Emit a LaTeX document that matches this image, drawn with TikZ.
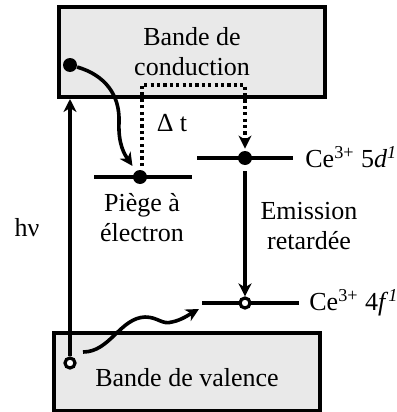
\documentclass[tikz,border=0pt]{standalone}
\usepackage{fontspec}
\setmainfont{Liberation Serif}
\usetikzlibrary{arrows.meta}
\definecolor{Band}{HTML}{E9E9E9}
\tikzset{
  band/.style={draw,line width=2pt,fill=Band,minimum width=133pt,
    inner sep=0pt,align=center},
  level/.style={line width=2.2pt},
  edot/.style={circle,fill=black,inner sep=0pt,minimum size=7pt},
  hole/.style={circle,draw,line width=1.6pt,fill=white,inner sep=0pt,
    minimum size=5pt},
  tip/.style={-{Stealth[length=6.5pt,width=6.5pt,inset=2pt]}},
  arrow/.style={tip,line width=1.8pt},
  delay/.style={line width=1.7pt,dash pattern=on 1.6pt off 1.6pt},
  lbl/.style={align=center},
  ion/.style={anchor=west,inner sep=0pt}
}

\begin{document}
\begin{tikzpicture}[x=0.5pt,y=-0.5pt,font=\fontsize{13}{15}\selectfont]
  \useasboundingbox (0,0) rectangle (396,412);
  % bands
  \node[band,minimum height=45pt] (cb) at (192,52) {Bande de\\conduction};
  \node[band,minimum height=39pt] (vb) at (187,372) {};
  \node (vbtxt) at (187,378) {Bande de valence};
  % levels
  \coordinate (trapL) at (94,177);
  \coordinate (trapR) at (192,177);
  \coordinate (dL) at (197,158);
  \coordinate (dR) at (293,158);
  \coordinate (fL) at (202,303);
  \coordinate (fR) at (299,303);
  \draw[level] (trapL) -- (trapR);
  \draw[level] (dL) -- (dR);
  \draw[level] (fL) -- (fR);
  % electrons and holes
  \node[edot] (cbdot) at (70,65) {};
  \node[edot] (trapdot) at (140,177) {};
  \node[edot] (ddot) at (245,158) {};
  \node[hole] (fhole) at (245,303) {};
  \node[hole] (vbhole) at (70,363) {};
  % texts
  \node[ion] (dlbl) at (305,157)
    {Ce\textsuperscript{3+} 5\textit{d}\textsuperscript{\textit{1}}};
  \node[ion] (flbl) at (309,303)
    {Ce\textsuperscript{3+} 4\textit{f}\textsuperscript{\textit{1}}};
  \node[lbl] (trap) at (142,218) {Piège à\\électron};
  \node[lbl] (emis) at (309,226) {Emission\\retardée};
  \node (hnu) at (27,228) {hν};
  \node (dt) at (172,123) {Δ t};
  % transitions
  \draw[arrow] (vbhole) -- (vbhole |- cb.south);
  \coordinate (c1) at (119,122);
  \draw[arrow,shorten >=3pt] (cbdot) .. controls (105,75) and (120,95) .. (c1)
    .. controls (118,145) and (125,155) .. (trapdot);
  \coordinate (dtb) at (142,166);
  \coordinate (dtl) at (142,85);
  \coordinate (dtr) at (245,85);
  \draw[delay,tip,shorten >=1pt] (dtb) -- (dtl) -- (dtr) -- (ddot);
  \draw[arrow,shorten <=3pt] (ddot) -- (fhole);
  \coordinate (w0) at (83,352);
  \coordinate (w1) at (199,309);
  \draw[arrow] (w0) .. controls (110,352) and (120,318) .. (145,317)
    .. controls (158,317) and (162,325) .. (172,322)
    .. controls (182,320) and (190,314) .. (w1);
\end{tikzpicture}
\end{document}
